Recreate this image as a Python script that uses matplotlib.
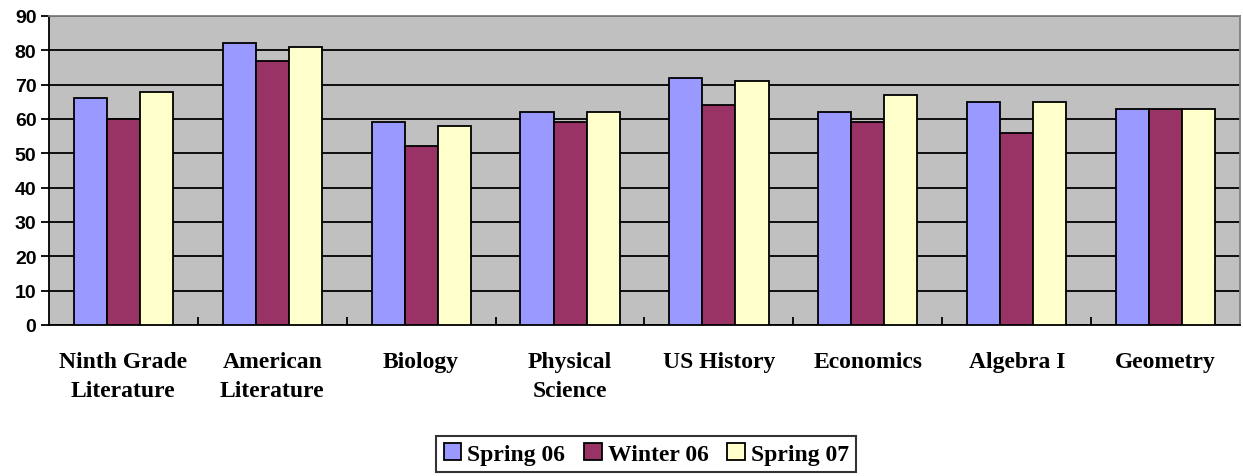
import numpy as np
import matplotlib.pyplot as plt
from matplotlib.patches import Patch

subjects = ["Ninth Grade\nLiterature", "American\nLiterature", "Biology",
            "Physical\nScience", "US History", "Economics", "Algebra I", "Geometry"]
series_names = ["Spring 06", "Winter 06", "Spring 07"]
spring06 = [66, 82, 59, 62, 72, 62, 65, 63]
winter06 = [60, 77, 52, 59, 64, 59, 56, 63]
spring07 = [68, 81, 58, 62, 71, 67, 65, 63]
colors = ["#9999FF", "#993366", "#FFFFCC"]


def main():
    fig = plt.figure(figsize=(12.43, 4.77), dpi=100)
    ax = fig.add_axes([0.0394, 0.3166, 0.9582, 0.6478])
    ax.set_facecolor("#C0C0C0")

    x = np.arange(len(subjects))
    w = 1 / 4.5
    for i, (vals, c) in enumerate(zip([spring06, winter06, spring07], colors)):
        ax.bar(x + (i - 1) * w, vals, w, color=c, edgecolor="black",
               linewidth=1.3, zorder=3)

    ax.set_xlim(-0.5, len(subjects) - 0.5)
    ax.set_ylim(0, 90)
    ax.set_yticks(range(0, 91, 10))
    ax.yaxis.grid(True, color="black", linewidth=1.3, zorder=1)
    ax.set_axisbelow(True)

    ax.set_xticks(x)
    ax.set_xticklabels(subjects, fontfamily="Liberation Serif", fontweight="bold",
                       fontsize=17, linespacing=1.5, va="top")
    ax.tick_params(axis="x", which="major", length=0, pad=19)
    ax.set_xticks(np.arange(0.5, len(subjects) - 0.5), minor=True)
    ax.tick_params(axis="x", which="minor", direction="in", length=6, width=1.3)
    ax.tick_params(axis="y", length=6, width=1.3, pad=3)
    for lab in ax.get_yticklabels():
        lab.set_fontfamily("Liberation Sans")
        lab.set_fontweight("bold")
        lab.set_fontsize(14)

    for s in ["top", "right"]:
        ax.spines[s].set_color("#808080")
        ax.spines[s].set_linewidth(1.3)
    for s in ["left", "bottom"]:
        ax.spines[s].set_color("black")
        ax.spines[s].set_linewidth(1.3)

    handles = [Patch(facecolor=c, edgecolor="black", linewidth=1.3) for c in colors]
    leg = fig.legend(handles, series_names, loc="center", bbox_to_anchor=(0.52, 0.046),
                     ncol=3, frameon=True, fancybox=False, edgecolor="black",
                     prop={"family": "Liberation Serif", "weight": "bold", "size": 17},
                     handlelength=0.75, handleheight=0.75, handletextpad=0.25,
                     columnspacing=0.8, borderpad=0.3)
    leg.get_frame().set_linewidth(1.5)

    fig.savefig("out.png", dpi=100)


if __name__ == '__main__':
    main()
